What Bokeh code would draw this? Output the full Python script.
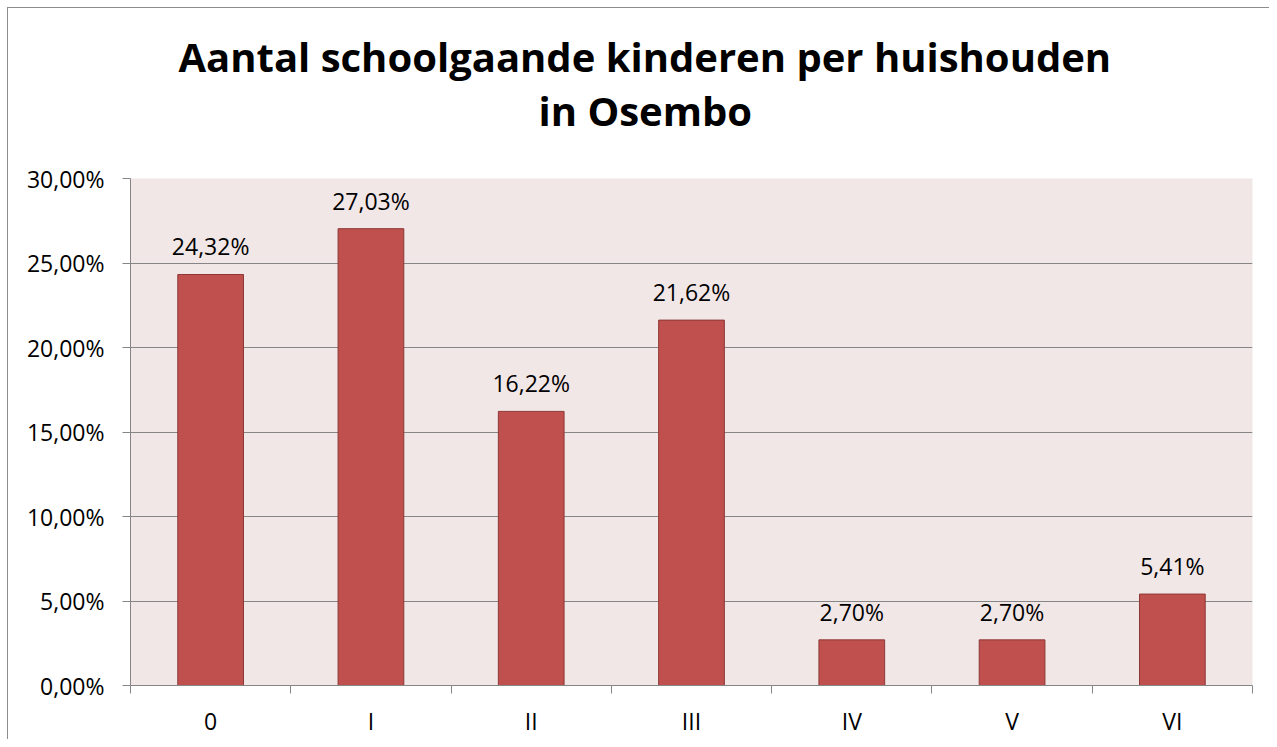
from bokeh.plotting import figure
from bokeh.models import FixedTicker, CustomJSTickFormatter, ColumnDataSource, Title
from bokeh.core.properties import value
from bokeh.embed import file_html
from bokeh.resources import INLINE

categories = ["0", "I", "II", "III", "IV", "V", "VI"]
percentages = [24.32, 27.03, 16.22, 21.62, 2.70, 2.70, 5.41]
y_ticks = [0, 5, 10, 15, 20, 25, 30]
title_lines = ["Aantal schoolgaande kinderen per huishouden", "in Osembo"]

xs = [i + 0.5 for i in range(len(categories))]
labels = [("%.2f%%" % v).replace(".", ",") for v in percentages]
src = ColumnDataSource(dict(x=xs, top=percentages, label=labels))

FONT = "Open Sans"
GRAY = "#868686"

p = figure(width=1262, height=732, output_backend="svg", toolbar_location=None,
           x_range=(0, len(categories)), y_range=(0, 30), title=None,
           min_border_left=122, min_border_right=18, min_border_top=170, min_border_bottom=55)
p.styles = {"margin-left": "7px", "margin-top": "7px",
            "border-left": "1px solid #8c8c8c", "border-top": "1px solid #8c8c8c"}

t2 = Title(text=title_lines[1], align="left", offset=408, text_font=FONT, text_font_size="40px",
           text_font_style="bold", text_color="#000000", standoff=81)
t1 = Title(text=title_lines[0], align="left", offset=48, text_font=FONT, text_font_size="40px",
           text_font_style="bold", text_color="#000000", standoff=-86)
p.add_layout(t2, "above")
p.add_layout(t1, "above")

p.background_fill_color = "#F2E7E7"
p.border_fill_color = "#FFFFFF"
p.outline_line_color = None

p.vbar(x="x", top="top", width=0.41, source=src, fill_color="#C0504D",
       line_color="#8C3836", line_width=1)
p.text(x="x", y="top", text="label", source=src, text_align="center",
       text_baseline="bottom", y_offset=-12, text_font=value(FONT),
       text_font_size="23px", text_color="#000000")

# y axis
p.yaxis.ticker = FixedTicker(ticks=y_ticks)
p.yaxis.formatter = CustomJSTickFormatter(code="return tick.toFixed(2).replace('.', ',') + '%';")
p.yaxis.major_tick_out = 8
p.yaxis.major_tick_in = 0
p.yaxis.minor_tick_line_color = None
p.yaxis.axis_line_color = GRAY
p.yaxis.major_tick_line_color = GRAY
p.yaxis.major_label_text_font = FONT
p.yaxis.major_label_text_font_size = "23px"
p.yaxis.major_label_text_color = "#000000"
p.yaxis.major_label_standoff = 18

# x axis
p.xaxis.ticker = FixedTicker(ticks=xs, minor_ticks=list(range(len(categories) + 1)))
p.xaxis.major_label_overrides = {x: c for x, c in zip(xs, categories)}
p.xaxis.major_tick_line_color = None
p.xaxis.minor_tick_out = 8
p.xaxis.minor_tick_in = 0
p.xaxis.minor_tick_line_color = GRAY
p.xaxis.axis_line_color = GRAY
p.xaxis.major_label_text_font = FONT
p.xaxis.major_label_text_font_size = "23px"
p.xaxis.major_label_text_color = "#000000"
p.xaxis.major_label_standoff = 11

p.xgrid.grid_line_color = None
p.ygrid.grid_line_color = GRAY
p.ygrid.grid_line_width = 1

open("out.html", "w").write(file_html(p, INLINE))
